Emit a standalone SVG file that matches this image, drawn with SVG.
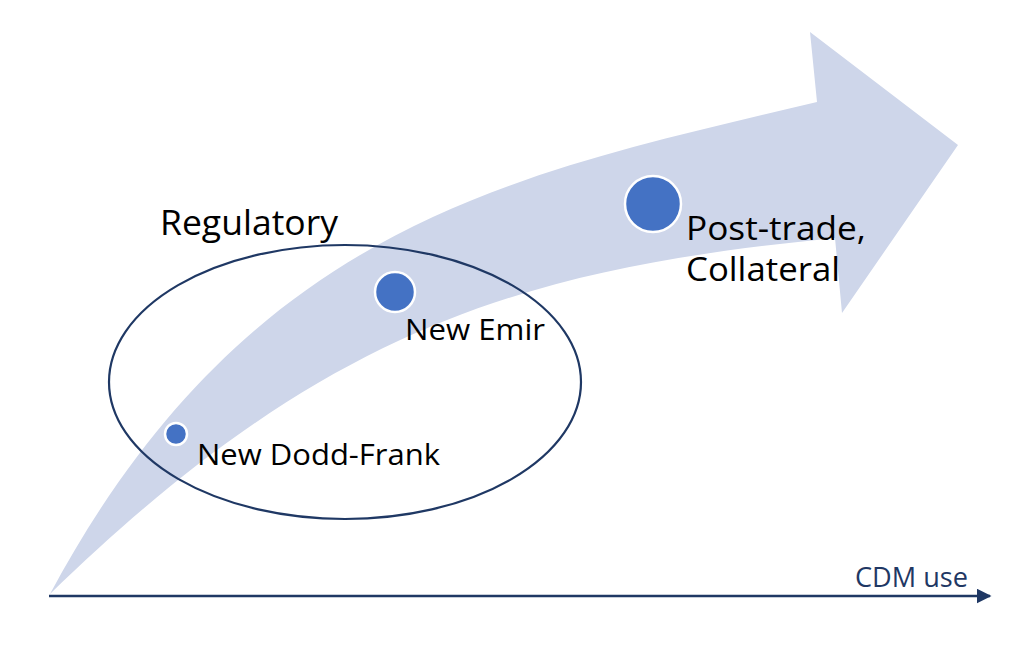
<svg xmlns="http://www.w3.org/2000/svg" width="1024" height="660" viewBox="0 0 1024 660">
<defs>
<style>
.lbl{font-family:"Open Sans","Liberation Sans",sans-serif;fill:#000}
.dot{fill:#4472C4;stroke:#fff;stroke-width:2.5}
.axis{stroke:#1F3864;stroke-width:2.5;fill:none}
</style>
<marker id="ah" viewBox="0 0 10 10" refX="9" refY="5" markerWidth="6" markerHeight="6" markerUnits="strokeWidth" orient="auto">
<path d="M0,0 L10,5 L0,10 Z" fill="#1F3864"/>
</marker>
</defs>
<rect width="1024" height="660" fill="#fff"/>
<g id="curved-arrow">
<path d="M50,594 C250,221 517,174 817,102 L810,32 L958,145 L842,313 L835,238 C535,268 330,321 50,594 Z" fill="#CED6EA"/>
</g>
<g id="regulatory">
<ellipse cx="345" cy="382" rx="236" ry="137" fill="none" stroke="#1F3864" stroke-width="2.2"/>
<text class="lbl" x="160" y="235" font-size="35" textLength="178" lengthAdjust="spacingAndGlyphs">Regulatory</text>
</g>
<g id="dodd-frank">
<circle class="dot" cx="176" cy="434" r="11"/>
<text class="lbl" x="197" y="465" font-size="30" textLength="243" lengthAdjust="spacingAndGlyphs">New Dodd-Frank</text>
</g>
<g id="emir">
<circle class="dot" cx="395" cy="292" r="20"/>
<text class="lbl" x="405" y="340" font-size="30" textLength="140" lengthAdjust="spacingAndGlyphs">New Emir</text>
</g>
<g id="post-trade">
<circle class="dot" cx="653" cy="204" r="28"/>
<text class="lbl" x="686" y="240" font-size="33" textLength="180" lengthAdjust="spacingAndGlyphs">Post-trade,</text>
<text class="lbl" x="686" y="281" font-size="33" textLength="154" lengthAdjust="spacingAndGlyphs">Collateral</text>
</g>
<g id="connectors">
<line class="axis" x1="49" y1="596" x2="990" y2="596" marker-end="url(#ah)"/>
<text x="855" y="587" font-family="Open Sans, Liberation Sans, sans-serif" font-size="27" fill="#1F3864" textLength="113" lengthAdjust="spacingAndGlyphs">CDM use</text>
</g>
</svg>
